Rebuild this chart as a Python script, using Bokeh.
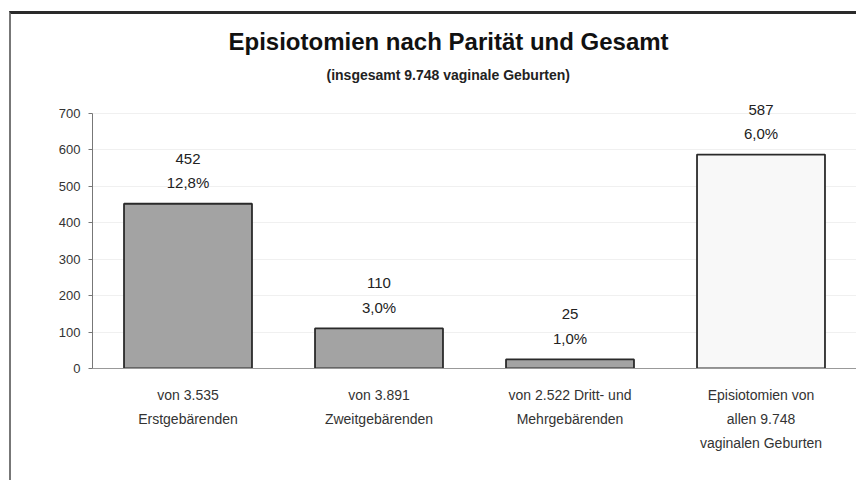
from bokeh.plotting import figure
from bokeh.models import ColumnDataSource, LabelSet, Title, FixedTicker
from bokeh.core.properties import value
from bokeh.embed import file_html
from bokeh.resources import INLINE

categories = ["von 3.535\nErstgebärenden",
              "von 3.891\nZweitgebärenden",
              "von 2.522 Dritt- und\nMehrgebärenden",
              "Episiotomien von\nallen 9.748\nvaginalen Geburten"]
counts = [452, 110, 25, 587]
percent_labels = ["12,8%", "3,0%", "1,0%", "6,0%"]
bar_colors = ["#a3a3a3", "#a3a3a3", "#a3a3a3", "#f8f8f8"]
y_ticks = [0, 100, 200, 300, 400, 500, 600, 700]

FONT = "Liberation Sans"

src = ColumnDataSource(dict(cat=categories, n=counts,
                            n_txt=[str(v) for v in counts],
                            pct=percent_labels, color=bar_colors))

p = figure(x_range=categories, y_range=(0, 760),
           frame_width=764, frame_height=277,
           min_border_left=81, min_border_right=0,
           min_border_top=77, min_border_bottom=112,
           output_backend="svg", toolbar_location=None)
p.styles = {"border-top": "3px solid #2a2a2a", "border-left": "2px solid #777777",
            "margin-top": "11px", "margin-left": "9px"}

p.vbar(x="cat", top="n", width=0.67, source=src, fill_color="color",
       line_color="#2a2a2a", line_width=1.8)

p.add_layout(LabelSet(x="cat", y="n", text="n_txt", source=src, y_offset=45,
                      text_align="center", text_baseline="middle",
                      text_font=value(FONT), text_font_size=value("15px"),
                      text_color="#222222"))
p.add_layout(LabelSet(x="cat", y="n", text="pct", source=src, y_offset=21,
                      text_align="center", text_baseline="middle",
                      text_font=value(FONT), text_font_size=value("15px"),
                      text_color="#222222"))

p.add_layout(Title(text="(insgesamt 9.748 vaginale Geburten)", align="left",
                   offset=234, standoff=18,
                   text_font=FONT, text_font_size="14px",
                   text_font_style="bold", text_color="#222222"), "above")
p.add_layout(Title(text="Episiotomien nach Parität und Gesamt", align="left",
                   offset=136, standoff=1,
                   text_font=FONT, text_font_size="24px",
                   text_font_style="bold", text_color="#111111"), "above")

p.outline_line_color = None
p.xgrid.grid_line_color = None
p.ygrid.grid_line_color = "#f0f0f0"
p.ygrid.ticker = FixedTicker(ticks=y_ticks)

p.yaxis.ticker = FixedTicker(ticks=y_ticks)
p.yaxis.bounds = (0, 700)
p.yaxis.axis_line_color = "#777777"
p.yaxis.major_tick_line_color = "#777777"
p.yaxis.major_tick_in = 0
p.yaxis.major_tick_out = 4
p.yaxis.minor_tick_line_color = None
p.yaxis.major_label_text_font = FONT
p.yaxis.major_label_text_font_size = "13px"
p.yaxis.major_label_text_color = "#333333"
p.yaxis.major_label_standoff = 8

p.xaxis.axis_line_color = "#999999"
p.xaxis.major_tick_line_color = None
p.xaxis.minor_tick_line_color = None
p.xaxis.major_label_text_font = FONT
p.xaxis.major_label_text_font_size = "14px"
p.xaxis.major_label_text_color = "#333333"
p.xaxis.major_label_text_line_height = 1.5
p.xaxis.major_label_standoff = 12

open("out.html", "w").write(file_html(p, INLINE))
